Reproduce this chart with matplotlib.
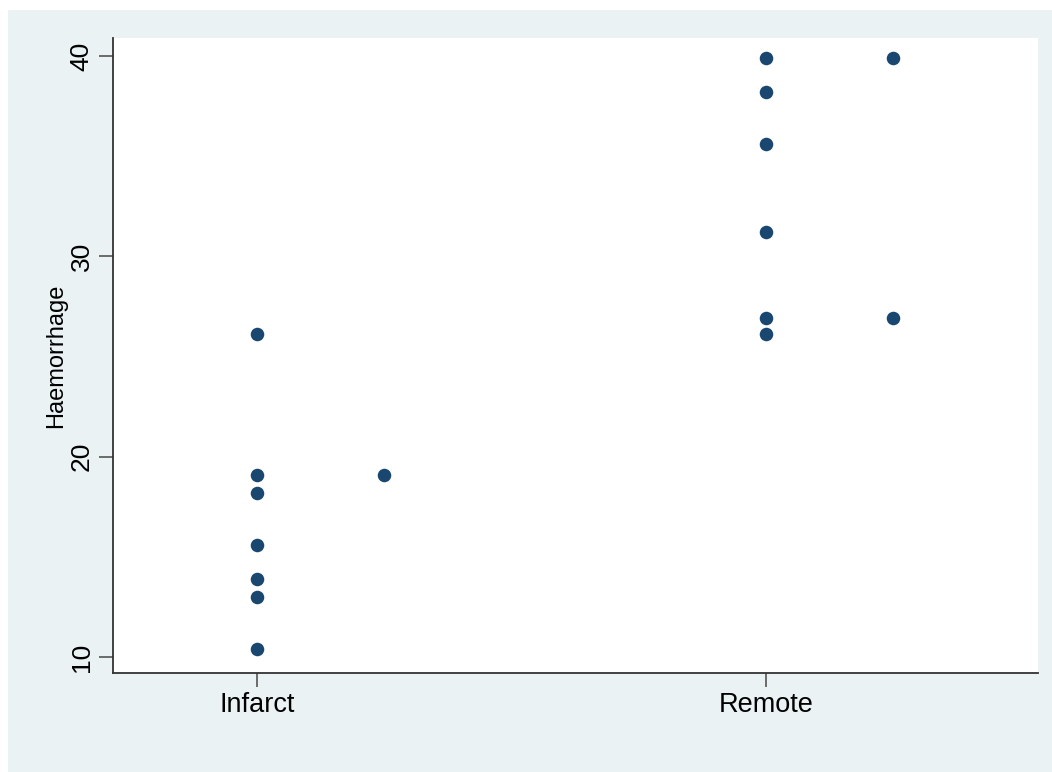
import numpy as np
import matplotlib
matplotlib.use("Agg")
import matplotlib.pyplot as plt
from matplotlib.patches import Rectangle

# ── DATA ──────────────────────────────────────────────────────────────────────
groups = ["Infarct", "Remote"]
infarct = [10.4, 13.0, 13.9, 15.6, 18.2, 19.1, 19.1, 26.1]
remote = [26.1, 26.9, 26.9, 31.2, 35.6, 38.2, 39.9, 39.9]
y_ticks = [10, 20, 30, 40]

plt.rcParams["font.family"] = ["Liberation Sans", "DejaVu Sans"]

W, H = 1052, 772
fig = plt.figure(figsize=(W / 100, H / 100), dpi=100)
fig.patch.set_facecolor("white")
fig.patches.append(Rectangle((8 / W, 0), 1 - 8 / W, 1 - 10 / H,
                             transform=fig.transFigure, facecolor="#EAF2F3",
                             edgecolor="none", zorder=-10))

ax = fig.add_axes([113 / W, (H - 673) / H, 925 / W, 635 / H])
ax.set_facecolor("white")

# dot plot: repeated values are shifted sideways
offset = 0.25
for gi, vals in enumerate([infarct, remote], start=1):
    seen = {}
    xs = []
    for v in vals:
        k = seen.get(v, 0)
        seen[v] = k + 1
        xs.append(gi + k * offset)
    ax.scatter(xs, vals, s=95, color="#1A476F", linewidths=0, zorder=3)

ax.set_xlim(0.717, 2.534)
ax.set_ylim(9.2, 40.9)
ax.set_xticks([1, 2])
ax.set_xticklabels(groups, fontsize=19.5)
ax.set_yticks(y_ticks)
ax.set_yticklabels([str(t) for t in y_ticks], fontsize=19, rotation=90, va="center")
ax.set_ylabel("Haemorrhage", fontsize=17, labelpad=2)

for side in ["top", "right"]:
    ax.spines[side].set_visible(False)
for side in ["left", "bottom"]:
    ax.spines[side].set_color("#333333")
    ax.spines[side].set_linewidth(1.3)
ax.tick_params(axis="both", length=10, width=1.2, color="#555555", pad=4)

fig.savefig("out.png", dpi=100)
